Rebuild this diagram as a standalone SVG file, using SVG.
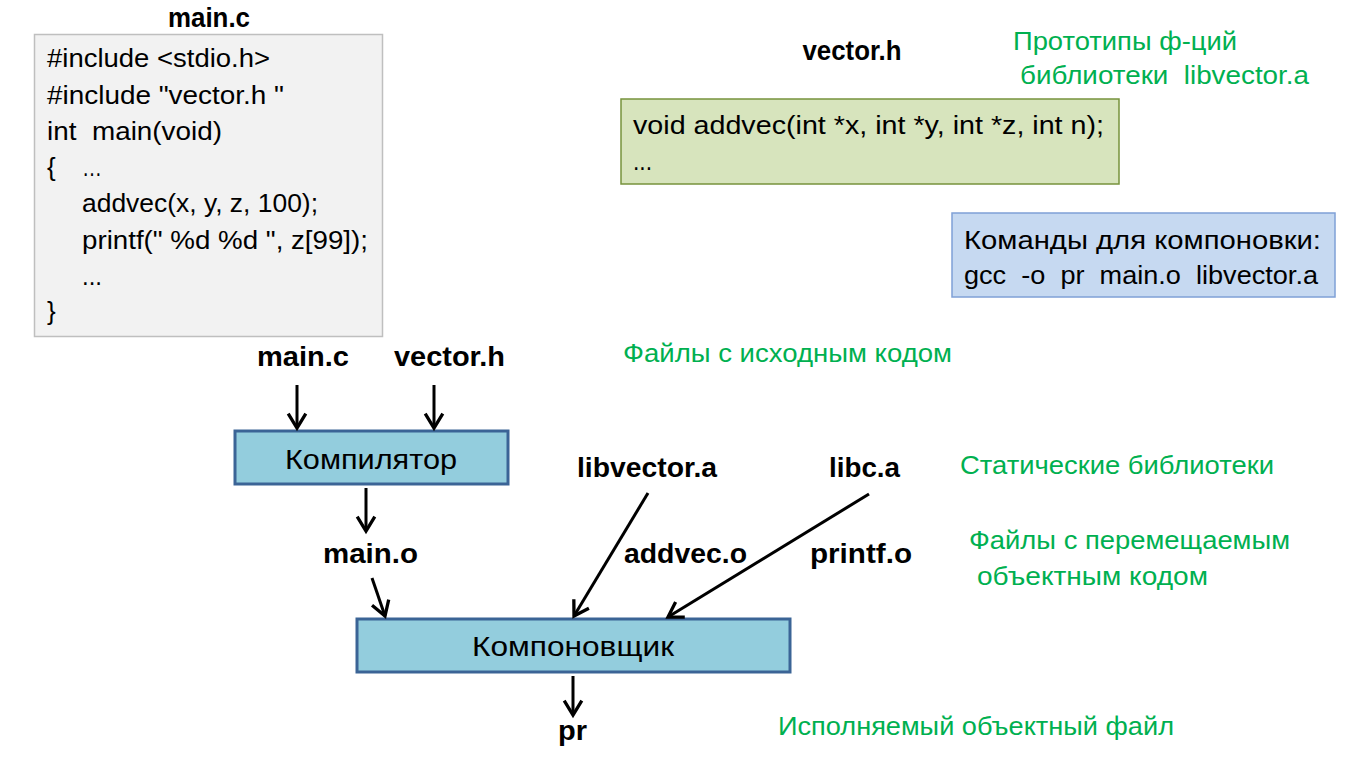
<svg xmlns="http://www.w3.org/2000/svg" width="1364" height="777" viewBox="0 0 1364 777" xml:space="preserve">
<defs>
<style>
text{font-family:"Liberation Sans",Arial,sans-serif;fill:#000;white-space:pre}
.code{font-size:26px}
.b{font-size:27px;font-weight:bold}
.g{font-size:26px;fill:#00b050}
.pl{font-size:27px}
.proc{fill:#93cddd;stroke:#3b6496;stroke-width:3}
.edge{stroke:#000;stroke-width:3;fill:none;marker-end:url(#ah)}
</style>
<marker id="ah" markerUnits="userSpaceOnUse" markerWidth="22" markerHeight="22" refX="15" refY="9" orient="auto" viewBox="0 0 20 18">
<path d="M2,1 L15,9 L2,17" fill="none" stroke="#000" stroke-width="3"/>
</marker>
</defs>
<rect width="1364" height="777" fill="#fff"/>

<g id="mainc-src">
<text class="b" x="209" y="27" text-anchor="middle" textLength="82" lengthAdjust="spacingAndGlyphs">main.c</text>
<rect x="34.5" y="34.5" width="348" height="302" fill="#f2f2f2" stroke="#bfbfbf" stroke-width="1.5"/>
<text class="code" x="47" y="67" textLength="223" lengthAdjust="spacingAndGlyphs">#include &lt;stdio.h&gt;</text>
<text class="code" x="47" y="104" textLength="237" lengthAdjust="spacingAndGlyphs">#include "vector.h "</text>
<text class="code" x="47" y="140" textLength="175" lengthAdjust="spacingAndGlyphs">int  main(void)</text>
<text class="code" x="47" y="176">{</text>
<text class="code" x="82" y="176" textLength="20" lengthAdjust="spacingAndGlyphs">…</text>
<text class="code" x="82" y="212" textLength="236" lengthAdjust="spacingAndGlyphs">addvec(x, y, z, 100);</text>
<text class="code" x="82" y="249" textLength="286" lengthAdjust="spacingAndGlyphs">printf(" %d %d ", z[99]);</text>
<text class="code" x="82" y="285" textLength="20" lengthAdjust="spacingAndGlyphs">...</text>
<text class="code" x="47" y="320">}</text>
</g>

<g id="vectorh-src">
<text class="b" x="852" y="60" text-anchor="middle" textLength="99" lengthAdjust="spacingAndGlyphs">vector.h</text>
<rect x="621" y="99" width="498" height="85" fill="#d7e4bd" stroke="#77933c" stroke-width="1.5"/>
<text class="code" x="633" y="134" textLength="471" lengthAdjust="spacingAndGlyphs">void addvec(int *x, int *y, int *z, int n);</text>
<text class="code" x="633" y="170" textLength="19" lengthAdjust="spacingAndGlyphs">...</text>
</g>

<g id="note-proto">
<text class="g" x="1013" y="50" textLength="224" lengthAdjust="spacingAndGlyphs">Прототипы ф-ций</text>
<text class="g" x="1020" y="84" textLength="289" lengthAdjust="spacingAndGlyphs">библиотеки  libvector.a</text>
</g>

<g id="cmd">
<rect x="952" y="213" width="383" height="84" fill="#c6d9f1" stroke="#7fa0d6" stroke-width="1.5"/>
<text class="code" x="964" y="249" textLength="357" lengthAdjust="spacingAndGlyphs">Команды для компоновки:</text>
<text class="code" x="964" y="284" textLength="354" lengthAdjust="spacingAndGlyphs">gcc  -o  pr  main.o  libvector.a</text>
</g>

<g id="lbl-mainc"><text class="b" x="257" y="366" textLength="92" lengthAdjust="spacingAndGlyphs">main.c</text></g>
<g id="lbl-vectorh"><text class="b" x="394" y="366" textLength="111" lengthAdjust="spacingAndGlyphs">vector.h</text></g>
<g id="note-src"><text class="g" x="623" y="362" textLength="329" lengthAdjust="spacingAndGlyphs">Файлы с исходным кодом</text></g>

<g id="compiler">
<rect class="proc" x="235" y="431" width="273" height="53"/>
<text class="pl" x="371" y="469" text-anchor="middle" textLength="172" lengthAdjust="spacingAndGlyphs">Компилятор</text>
</g>

<g id="lbl-libvector"><text class="b" x="577" y="477" textLength="140" lengthAdjust="spacingAndGlyphs">libvector.a</text></g>
<g id="lbl-libc"><text class="b" x="829" y="477" textLength="71" lengthAdjust="spacingAndGlyphs">libc.a</text></g>
<g id="note-static"><text class="g" x="960" y="474" textLength="314" lengthAdjust="spacingAndGlyphs">Статические библиотеки</text></g>

<g id="lbl-maino"><text class="b" x="323" y="563" textLength="95" lengthAdjust="spacingAndGlyphs">main.o</text></g>
<g id="lbl-addvec"><text class="b" x="624" y="563" textLength="123" lengthAdjust="spacingAndGlyphs">addvec.o</text></g>
<g id="lbl-printf"><text class="b" x="810" y="563" textLength="102" lengthAdjust="spacingAndGlyphs">printf.o</text></g>
<g id="note-reloc">
<text class="g" x="969" y="549" textLength="321" lengthAdjust="spacingAndGlyphs">Файлы с перемещаемым</text>
<text class="g" x="977" y="585" textLength="231" lengthAdjust="spacingAndGlyphs">объектным кодом</text>
</g>

<g id="linker">
<rect class="proc" x="357" y="619" width="433" height="53"/>
<text class="pl" x="573" y="656" text-anchor="middle" textLength="202" lengthAdjust="spacingAndGlyphs">Компоновщик</text>
</g>

<g id="lbl-pr"><text class="b" x="558" y="740" textLength="29" lengthAdjust="spacingAndGlyphs">pr</text></g>
<g id="note-exe"><text class="g" x="778" y="735" textLength="396" lengthAdjust="spacingAndGlyphs">Исполняемый объектный файл</text></g>

<g id="connectors">
<line class="edge" x1="297" y1="385" x2="297" y2="428"/>
<line class="edge" x1="434" y1="385" x2="434" y2="428"/>
<line class="edge" x1="366" y1="488" x2="366" y2="531"/>
<line class="edge" x1="372" y1="578" x2="385" y2="616"/>
<line class="edge" x1="648" y1="493" x2="574" y2="616"/>
<line class="edge" x1="869" y1="494" x2="668" y2="617"/>
<line class="edge" x1="573" y1="676" x2="573" y2="715"/>
</g>
</svg>
